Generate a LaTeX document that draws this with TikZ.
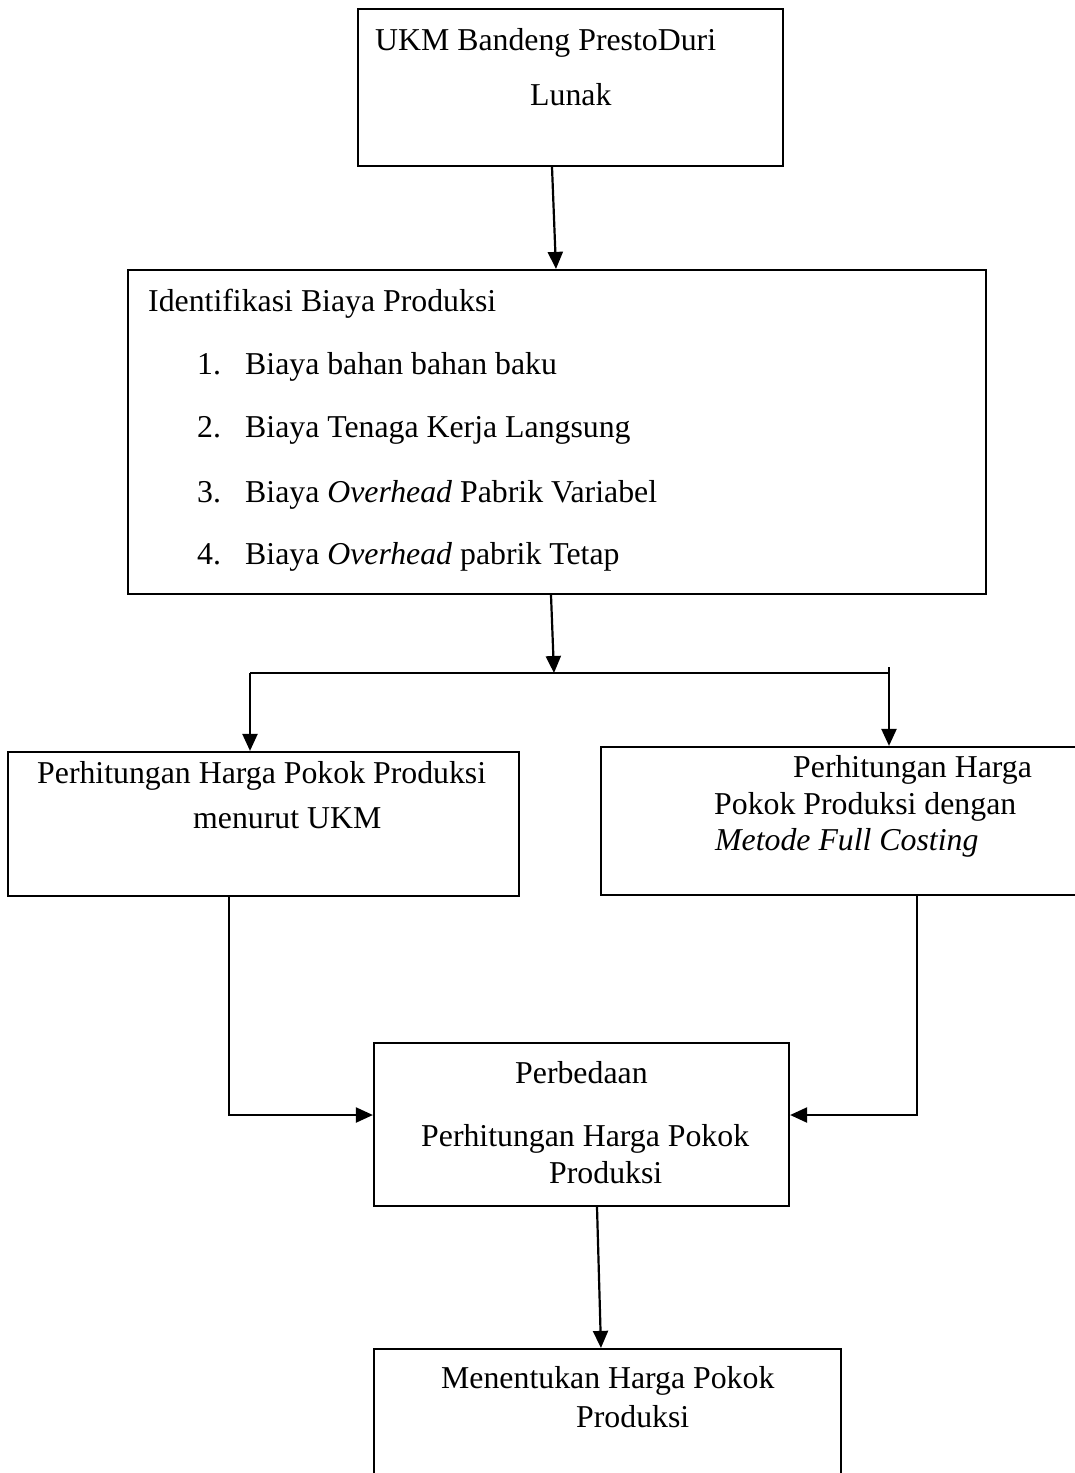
\documentclass[tikz,border=0pt]{standalone}
\usepackage{fontspec}
\setmainfont{Liberation Serif}
\usetikzlibrary{arrows.meta}
\begin{document}
\begin{tikzpicture}[x=1pt,y=-1pt,
  box/.style={draw,line width=2.2pt,inner sep=0pt,rectangle},
  txt/.style={anchor=base west,inner sep=0pt,font=\fontsize{31.8}{38}\selectfont},
  conn/.style={line width=2.2pt},
  arr/.style={line width=2.2pt,-{Triangle[length=17pt,width=15pt]}}]
\useasboundingbox (0,0) rectangle (1074,1473);
% boxes
\node[box,minimum width=425pt,minimum height=157pt] (b1) at (570.5,87.5) {};
\node[box,minimum width=858pt,minimum height=324pt] (b2) at (557,432) {};
\node[box,minimum width=511pt,minimum height=144pt] (bl) at (263.5,824) {};
\node[box,minimum width=489pt,minimum height=148pt] (br) at (845.5,821) {};
\node[box,minimum width=415pt,minimum height=163pt] (b5) at (581.5,1124.5) {};
\node[box,minimum width=467pt,minimum height=141pt] (b6) at (607.5,1419.5) {};
% texts
\node[txt] (t1a) at (375,50) {UKM Bandeng PrestoDuri};
\node[txt] (t1b) at (530,105) {Lunak};
\node[txt] (t2) at (148,311) {Identifikasi Biaya Produksi};
\node[txt] (n1) at (197,374) {1.};
\node[txt] (i1) at (245,374) {Biaya bahan bahan baku};
\node[txt] (n2) at (197,437) {2.};
\node[txt] (i2) at (245,437) {Biaya Tenaga Kerja Langsung};
\node[txt] (n3) at (197,502) {3.};
\node[txt] (i3) at (245,502) {Biaya \textit{Overhead} Pabrik Variabel};
\node[txt] (n4) at (197,564) {4.};
\node[txt] (i4) at (245,564) {Biaya \textit{Overhead} pabrik Tetap};
\node[txt] (tla) at (37,783) {Perhitungan Harga Pokok Produksi};
\node[txt] (tlb) at (193,828) {menurut UKM};
\node[txt] (tra) at (793,777) {Perhitungan Harga};
\node[txt] (trb) at (714,814) {Pokok Produksi dengan};
\node[txt] (trc) at (715,850) {\textit{Metode Full Costing}};
\node[txt] (t5a) at (515,1083) {Perbedaan};
\node[txt] (t5b) at (421,1146) {Perhitungan Harga Pokok};
\node[txt] (t5c) at (549,1183) {Produksi};
\node[txt] (t6a) at (441,1388) {Menentukan Harga Pokok};
\node[txt] (t6b) at (576,1427) {Produksi};
% helper coordinates
\coordinate (x552) at (552,0);
\coordinate (x556) at (556,0);
\coordinate (split) at (554,673);
\coordinate (x551) at (551,0);
\coordinate (lt) at (250,673);
\coordinate (rt) at (889,673);
\coordinate (rtop) at (889,667);
\coordinate (lx) at (229,0);
\coordinate (rx) at (917,0);
\coordinate (lc) at (229,1115);
\coordinate (rc) at (917,1115);
\coordinate (x597) at (597,0);
\coordinate (x601) at (601,0);
% connectors
\draw[arr] (b1.south -| x552) -- (b2.north -| x556);
\draw[arr] (b2.south -| x551) -- (split);
\draw[conn] (lt) -- (rt);
\draw[arr] (lt) -- (bl.north -| lt);
\draw[arr] (rtop) -- (br.north -| rtop);
\draw[arr] (bl.south -| lx) -- (lc) -- (b5.west |- lc);
\draw[arr] (br.south -| rx) -- (rc) -- (b5.east |- rc);
\draw[arr] (b5.south -| x597) -- (b6.north -| x601);
\end{tikzpicture}
\end{document}
